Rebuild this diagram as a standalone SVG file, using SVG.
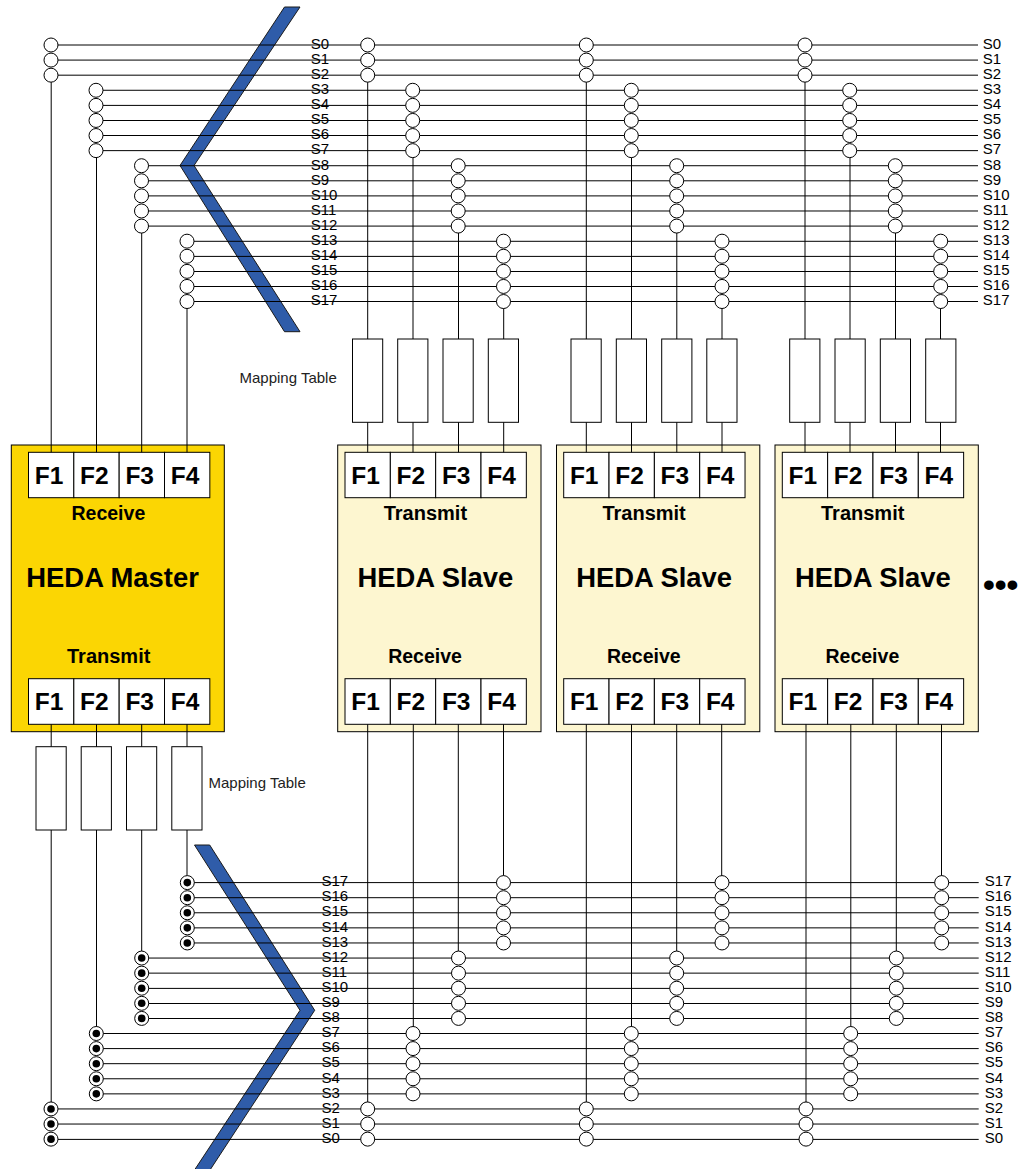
<svg xmlns="http://www.w3.org/2000/svg" xmlns:xlink="http://www.w3.org/1999/xlink" width="1023" height="1169" viewBox="0 0 1023 1169">
<style>
text{font-family:"Liberation Sans",Arial,sans-serif;fill:#000}
.w{fill:#fff;stroke:#000;stroke-width:1}
.l{stroke:#000;stroke-width:1;fill:none}
.m{fill:#fbd603;stroke:#000;stroke-width:1}
.s{fill:#fdf6d0;stroke:#000;stroke-width:1}
.ch{fill:#2f5ca9;stroke:#1a1a1a;stroke-width:1}
.f{font-size:24.5px;font-weight:bold}
.t{font-size:20px;font-weight:bold}
.r{font-size:19.5px;font-weight:bold}
.h{font-size:27.4px;font-weight:bold}
.b{font-size:15px}
.map{font-size:15px;fill:#222}
.dot{fill:#000}
</style>
<defs>
<g id="o"><circle class="w" r="7" cx="0" cy="0"/></g>
<g id="x"><circle class="w" r="7" cx="0" cy="0"/><circle class="dot" r="3.8" cx="0" cy="0"/></g>
<g id="o3"><use href="#o" y="0"/><use href="#o" y="15.09"/><use href="#o" y="30.18"/></g>
<g id="o5"><use href="#o3"/><use href="#o" y="45.27"/><use href="#o" y="60.36"/></g>
<g id="x3"><use href="#x" y="0"/><use href="#x" y="15.09"/><use href="#x" y="30.18"/></g>
<g id="x5"><use href="#x3"/><use href="#x" y="45.27"/><use href="#x" y="60.36"/></g>
<g id="mt"><rect class="w" x="0" y="0" width="30.2" height="83.3"/></g>
</defs>

<g id="chevron-top"><polygon class="ch" points="284.5,7 300,7 194,165.5 300,331.7 284.5,331.7 180,165.5"/></g>
<g id="chevron-bottom"><polygon class="ch" points="194.5,845 209.7,845 314.7,1010.3 210,1170 194.5,1170 300,1010.3"/></g>

<g id="heda-master">
<rect class="m" x="11.3" y="445" width="213" height="286.7"/>
<rect class="w" x="28.5" y="452.3" width="45.33" height="45.4"/><rect class="w" x="73.83" y="452.3" width="45.33" height="45.4"/><rect class="w" x="119.17" y="452.3" width="45.33" height="45.4"/><rect class="w" x="164.5" y="452.3" width="45.33" height="45.4"/>
<text class="f" x="34.7" y="484">F1</text><text class="f" x="80" y="484">F2</text><text class="f" x="125.4" y="484">F3</text><text class="f" x="170.7" y="484">F4</text>
<text class="r" x="71.5" y="520">Receive</text>
<text class="h" x="26.3" y="587">HEDA Master</text>
<text class="t" x="67" y="662.7">Transmit</text>
<rect class="w" x="28.5" y="678.7" width="45.33" height="45.6"/><rect class="w" x="73.83" y="678.7" width="45.33" height="45.6"/><rect class="w" x="119.17" y="678.7" width="45.33" height="45.6"/><rect class="w" x="164.5" y="678.7" width="45.33" height="45.6"/>
<text class="f" x="34.7" y="710">F1</text><text class="f" x="80" y="710">F2</text><text class="f" x="125.4" y="710">F3</text><text class="f" x="170.7" y="710">F4</text>
</g>

<g id="heda-slave-1">
<rect class="s" x="337.7" y="445" width="203.3" height="286.7"/>
<rect class="w" x="345" y="452.3" width="45.33" height="45.4"/><rect class="w" x="390.33" y="452.3" width="45.33" height="45.4"/><rect class="w" x="435.67" y="452.3" width="45.33" height="45.4"/><rect class="w" x="481" y="452.3" width="45.33" height="45.4"/>
<text class="f" x="351.2" y="484">F1</text><text class="f" x="396.5" y="484">F2</text><text class="f" x="441.9" y="484">F3</text><text class="f" x="487.2" y="484">F4</text>
<text class="t" x="383.7" y="520">Transmit</text>
<text class="h" x="357.5" y="587">HEDA Slave</text>
<text class="r" x="388.2" y="662.7">Receive</text>
<rect class="w" x="345" y="678.7" width="45.33" height="45.6"/><rect class="w" x="390.33" y="678.7" width="45.33" height="45.6"/><rect class="w" x="435.67" y="678.7" width="45.33" height="45.6"/><rect class="w" x="481" y="678.7" width="45.33" height="45.6"/>
<text class="f" x="351.2" y="710">F1</text><text class="f" x="396.5" y="710">F2</text><text class="f" x="441.9" y="710">F3</text><text class="f" x="487.2" y="710">F4</text>
</g>

<g id="heda-slave-2">
<rect class="s" x="556.5" y="445" width="203.3" height="286.7"/>
<rect class="w" x="563.7" y="452.3" width="45.33" height="45.4"/><rect class="w" x="609.03" y="452.3" width="45.33" height="45.4"/><rect class="w" x="654.37" y="452.3" width="45.33" height="45.4"/><rect class="w" x="699.7" y="452.3" width="45.33" height="45.4"/>
<text class="f" x="569.9" y="484">F1</text><text class="f" x="615.2" y="484">F2</text><text class="f" x="660.6" y="484">F3</text><text class="f" x="705.9" y="484">F4</text>
<text class="t" x="602.4" y="520">Transmit</text>
<text class="h" x="576.2" y="587">HEDA Slave</text>
<text class="r" x="606.9" y="662.7">Receive</text>
<rect class="w" x="563.7" y="678.7" width="45.33" height="45.6"/><rect class="w" x="609.03" y="678.7" width="45.33" height="45.6"/><rect class="w" x="654.37" y="678.7" width="45.33" height="45.6"/><rect class="w" x="699.7" y="678.7" width="45.33" height="45.6"/>
<text class="f" x="569.9" y="710">F1</text><text class="f" x="615.2" y="710">F2</text><text class="f" x="660.6" y="710">F3</text><text class="f" x="705.9" y="710">F4</text>
</g>

<g id="heda-slave-3">
<rect class="s" x="775" y="445" width="203.3" height="286.7"/>
<rect class="w" x="782.3" y="452.3" width="45.33" height="45.4"/><rect class="w" x="827.63" y="452.3" width="45.33" height="45.4"/><rect class="w" x="872.97" y="452.3" width="45.33" height="45.4"/><rect class="w" x="918.3" y="452.3" width="45.33" height="45.4"/>
<text class="f" x="788.5" y="484">F1</text><text class="f" x="833.8" y="484">F2</text><text class="f" x="879.2" y="484">F3</text><text class="f" x="924.5" y="484">F4</text>
<text class="t" x="821" y="520">Transmit</text>
<text class="h" x="795" y="587">HEDA Slave</text>
<text class="r" x="825.5" y="662.7">Receive</text>
<rect class="w" x="782.3" y="678.7" width="45.33" height="45.6"/><rect class="w" x="827.63" y="678.7" width="45.33" height="45.6"/><rect class="w" x="872.97" y="678.7" width="45.33" height="45.6"/><rect class="w" x="918.3" y="678.7" width="45.33" height="45.6"/>
<text class="f" x="788.5" y="710">F1</text><text class="f" x="833.8" y="710">F2</text><text class="f" x="879.2" y="710">F3</text><text class="f" x="924.5" y="710">F4</text>
</g>

<g id="connectors" class="l">
<line x1="51" y1="45" x2="978" y2="45"/><line x1="51" y1="60.09" x2="978" y2="60.09"/><line x1="51" y1="75.18" x2="978" y2="75.18"/>
<line x1="96" y1="90.27" x2="978" y2="90.27"/><line x1="96" y1="105.4" x2="978" y2="105.4"/><line x1="96" y1="120.5" x2="978" y2="120.5"/><line x1="96" y1="135.5" x2="978" y2="135.5"/><line x1="96" y1="150.63" x2="978" y2="150.63"/>
<line x1="141.5" y1="165.72" x2="978" y2="165.72"/><line x1="141.5" y1="180.81" x2="978" y2="180.81"/><line x1="141.5" y1="195.9" x2="978" y2="195.9"/><line x1="141.5" y1="210.99" x2="978" y2="210.99"/><line x1="141.5" y1="226.08" x2="978" y2="226.08"/>
<line x1="187" y1="241.3" x2="978" y2="241.3"/><line x1="187" y1="256.4" x2="978" y2="256.4"/><line x1="187" y1="271.5" x2="978" y2="271.5"/><line x1="187" y1="286.5" x2="978" y2="286.5"/><line x1="187" y1="301.5" x2="978" y2="301.5"/>
<line x1="187.3" y1="882.6" x2="978.7" y2="882.6"/><line x1="187.3" y1="897.69" x2="978.7" y2="897.69"/><line x1="187.3" y1="912.78" x2="978.7" y2="912.78"/><line x1="187.3" y1="927.87" x2="978.7" y2="927.87"/><line x1="187.3" y1="942.96" x2="978.7" y2="942.96"/>
<line x1="141.7" y1="958.05" x2="978.7" y2="958.05"/><line x1="141.7" y1="973.14" x2="978.7" y2="973.14"/><line x1="141.7" y1="988.4" x2="978.7" y2="988.4"/><line x1="141.7" y1="1003.5" x2="978.7" y2="1003.5"/><line x1="141.7" y1="1018.5" x2="978.7" y2="1018.5"/>
<line x1="96.3" y1="1033.5" x2="978.7" y2="1033.5"/><line x1="96.3" y1="1048.59" x2="978.7" y2="1048.59"/><line x1="96.3" y1="1063.68" x2="978.7" y2="1063.68"/><line x1="96.3" y1="1078.77" x2="978.7" y2="1078.77"/><line x1="96.3" y1="1093.86" x2="978.7" y2="1093.86"/>
<line x1="51" y1="1108.95" x2="978.7" y2="1108.95"/><line x1="51" y1="1124.04" x2="978.7" y2="1124.04"/><line x1="51" y1="1139.4" x2="978.7" y2="1139.4"/>

<line x1="51.2" y1="75" x2="51.2" y2="452.3"/><line x1="96.5" y1="150" x2="96.5" y2="452.3"/><line x1="141.7" y1="226" x2="141.7" y2="452.3"/><line x1="187" y1="301" x2="187" y2="452.3"/>
<line x1="51.2" y1="724.3" x2="51.2" y2="1109"/><line x1="96.5" y1="724.3" x2="96.5" y2="1033"/><line x1="141.7" y1="724.3" x2="141.7" y2="958"/><line x1="187" y1="724.3" x2="187" y2="882"/>

<line x1="367.7" y1="75" x2="367.7" y2="452.3"/><line x1="413" y1="150" x2="413" y2="452.3"/><line x1="458.5" y1="226" x2="458.5" y2="452.3"/><line x1="503.7" y1="301" x2="503.7" y2="452.3"/>
<line x1="586.3" y1="75" x2="586.3" y2="452.3"/><line x1="631.5" y1="150" x2="631.5" y2="452.3"/><line x1="676.8" y1="226" x2="676.8" y2="452.3"/><line x1="722" y1="301" x2="722" y2="452.3"/>
<line x1="805" y1="75" x2="805" y2="452.3"/><line x1="850" y1="150" x2="850" y2="452.3"/><line x1="895.5" y1="226" x2="895.5" y2="452.3"/><line x1="940.5" y1="301" x2="940.5" y2="452.3"/>

<line x1="367.7" y1="724.3" x2="367.7" y2="1109"/><line x1="413.3" y1="724.3" x2="413.3" y2="1033"/><line x1="458.3" y1="724.3" x2="458.3" y2="958"/><line x1="503.5" y1="724.3" x2="503.5" y2="882"/>
<line x1="586.3" y1="724.3" x2="586.3" y2="1109"/><line x1="631.5" y1="724.3" x2="631.5" y2="1033"/><line x1="676.7" y1="724.3" x2="676.7" y2="958"/><line x1="721.7" y1="724.3" x2="721.7" y2="882"/>
<line x1="806" y1="724.3" x2="806" y2="1109"/><line x1="850.8" y1="724.3" x2="850.8" y2="1033"/><line x1="896.3" y1="724.3" x2="896.3" y2="958"/><line x1="941.5" y1="724.3" x2="941.5" y2="882"/>
</g>

<g id="mapping-master"><use href="#mt" x="36" y="746.7"/><use href="#mt" x="81.2" y="746.7"/><use href="#mt" x="126.5" y="746.7"/><use href="#mt" x="171.8" y="746.7"/><text class="map" x="208.5" y="788.3">Mapping Table</text></g>
<g id="mapping-slave-1"><use href="#mt" x="352.5" y="339"/><use href="#mt" x="397.7" y="339"/><use href="#mt" x="443" y="339"/><use href="#mt" x="488.3" y="339"/><text class="map" x="239.5" y="383.3">Mapping Table</text></g>
<g id="mapping-slave-2"><use href="#mt" x="571" y="339"/><use href="#mt" x="616.3" y="339"/><use href="#mt" x="661.7" y="339"/><use href="#mt" x="706.8" y="339"/></g>
<g id="mapping-slave-3"><use href="#mt" x="789.7" y="339"/><use href="#mt" x="835" y="339"/><use href="#mt" x="880.3" y="339"/><use href="#mt" x="925.7" y="339"/></g>

<g id="taps-master-rx"><use href="#o3" x="51" y="45"/><use href="#o5" x="96" y="90.27"/><use href="#o5" x="141.5" y="165.72"/><use href="#o5" x="187" y="241.17"/></g>
<g id="taps-slave-1-tx"><use href="#o3" x="367.7" y="45"/><use href="#o5" x="412.7" y="90.27"/><use href="#o5" x="458.2" y="165.72"/><use href="#o5" x="503.5" y="241.17"/></g>
<g id="taps-slave-2-tx"><use href="#o3" x="586.3" y="45"/><use href="#o5" x="631.3" y="90.27"/><use href="#o5" x="676.7" y="165.72"/><use href="#o5" x="722" y="241.17"/></g>
<g id="taps-slave-3-tx"><use href="#o3" x="805" y="45"/><use href="#o5" x="849.7" y="90.27"/><use href="#o5" x="895.3" y="165.72"/><use href="#o5" x="940.7" y="241.17"/></g>
<g id="taps-master-tx"><use href="#x5" x="187.3" y="882.6"/><use href="#x5" x="141.7" y="958.05"/><use href="#x5" x="96.3" y="1033.5"/><use href="#x3" x="51" y="1108.95"/></g>
<g id="taps-slave-1-rx"><use href="#o5" x="503.5" y="882.6"/><use href="#o5" x="458.5" y="958.05"/><use href="#o5" x="413" y="1033.5"/><use href="#o3" x="367.7" y="1108.95"/></g>
<g id="taps-slave-2-rx"><use href="#o5" x="722" y="882.6"/><use href="#o5" x="676.7" y="958.05"/><use href="#o5" x="631.3" y="1033.5"/><use href="#o3" x="586.3" y="1108.95"/></g>
<g id="taps-slave-3-rx"><use href="#o5" x="941.7" y="882.6"/><use href="#o5" x="896.3" y="958.05"/><use href="#o5" x="850.7" y="1033.5"/><use href="#o3" x="806" y="1108.95"/></g>

<g id="labels-top-mid" class="b">
<text x="310.7" y="49.3">S0</text><text x="310.7" y="64.3">S1</text><text x="310.7" y="79">S2</text><text x="310.7" y="94.3">S3</text><text x="310.7" y="109.3">S4</text><text x="310.7" y="124.3">S5</text><text x="310.7" y="139.3">S6</text><text x="310.7" y="154.3">S7</text><text x="310.7" y="169.5">S8</text><text x="310.7" y="184.6">S9</text><text x="310.7" y="199.7">S10</text><text x="310.7" y="214.8">S11</text><text x="310.7" y="229.9">S12</text><text x="310.7" y="245">S13</text><text x="310.7" y="260">S14</text><text x="310.7" y="275">S15</text><text x="310.7" y="290">S16</text><text x="310.7" y="305.2">S17</text>
</g>
<g id="labels-top-right" class="b">
<text x="982.8" y="49.3">S0</text><text x="982.8" y="64.3">S1</text><text x="982.8" y="79">S2</text><text x="982.8" y="94.3">S3</text><text x="982.8" y="109.3">S4</text><text x="982.8" y="124.3">S5</text><text x="982.8" y="139.3">S6</text><text x="982.8" y="154.3">S7</text><text x="982.8" y="169.5">S8</text><text x="982.8" y="184.6">S9</text><text x="982.8" y="199.7">S10</text><text x="982.8" y="214.8">S11</text><text x="982.8" y="229.9">S12</text><text x="982.8" y="245">S13</text><text x="982.8" y="260">S14</text><text x="982.8" y="275">S15</text><text x="982.8" y="290">S16</text><text x="982.8" y="305.2">S17</text>
</g>
<g id="labels-bottom-mid" class="b">
<text x="321.5" y="886.2">S17</text><text x="321.5" y="901.3">S16</text><text x="321.5" y="916.4">S15</text><text x="321.5" y="931.5">S14</text><text x="321.5" y="946.6">S13</text><text x="321.5" y="961.7">S12</text><text x="321.5" y="976.8">S11</text><text x="321.5" y="991.9">S10</text><text x="321.5" y="1007">S9</text><text x="321.5" y="1022.1">S8</text><text x="321.5" y="1037.2">S7</text><text x="321.5" y="1052.3">S6</text><text x="321.5" y="1067.4">S5</text><text x="321.5" y="1082.5">S4</text><text x="321.5" y="1097.6">S3</text><text x="321.5" y="1112.7">S2</text><text x="321.5" y="1127.8">S1</text><text x="321.5" y="1142.9">S0</text>
</g>
<g id="labels-bottom-right" class="b">
<text x="984.8" y="886.2">S17</text><text x="984.8" y="901.3">S16</text><text x="984.8" y="916.4">S15</text><text x="984.8" y="931.5">S14</text><text x="984.8" y="946.6">S13</text><text x="984.8" y="961.7">S12</text><text x="984.8" y="976.8">S11</text><text x="984.8" y="991.9">S10</text><text x="984.8" y="1007">S9</text><text x="984.8" y="1022.1">S8</text><text x="984.8" y="1037.2">S7</text><text x="984.8" y="1052.3">S6</text><text x="984.8" y="1067.4">S5</text><text x="984.8" y="1082.5">S4</text><text x="984.8" y="1097.6">S3</text><text x="984.8" y="1112.7">S2</text><text x="984.8" y="1127.8">S1</text><text x="984.8" y="1142.9">S0</text>
</g>
<g id="ellipsis"><text x="983" y="596" font-size="33.7" font-weight="bold">•••</text></g>
</svg>
